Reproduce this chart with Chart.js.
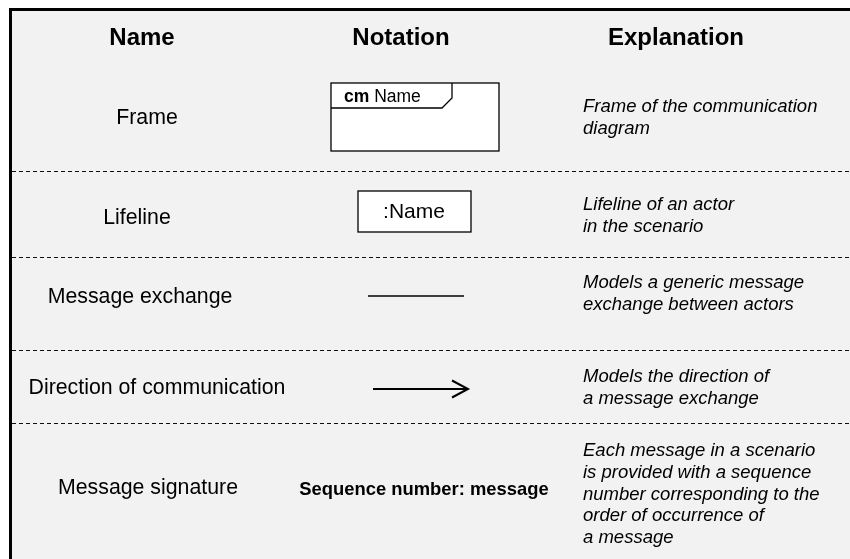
<!DOCTYPE html>
<html>
<head>
<meta charset="utf-8">
<script src="https://cdn.jsdelivr.net/npm/chart.js@4/dist/chart.umd.min.js"></script>
<style>
  html, body { margin: 0; padding: 0; background: #ffffff; }
  canvas { display: block; }
</style>
</head>
<body>
<canvas id="notation-chart" width="850" height="559"></canvas>
<script>
// Table content
const headers = ['Name', 'Notation', 'Explanation'];
const names = ['Frame', 'Lifeline', 'Message exchange', 'Direction of communication', 'Message signature'];
const notationKinds = ['frame', 'lifeline', 'line', 'arrow', 'signature'];
const notationLabels = ['Name', ':Name', '', '', 'Sequence number: message'];
const frameKeyword = 'cm';
const explanations = [
    ['Frame of the communication', 'diagram'],
    ['Lifeline of an actor', 'in the scenario'],
    ['Models a generic message', 'exchange between actors'],
    ['Models the direction of', 'a message exchange'],
    ['Each message in a scenario', 'is provided with a sequence', 'number corresponding to the', 'order of occurrence of', 'a message']
];

// Layout (in scale units, identical to pixels here)
const rowBounds = [11, 171.5, 257.5, 350.5, 423.5, 559];
const headerY = 38;
const headerX = [142, 401, 676];
const nameX = [147, 137, 140, 157, 148];
const nameY = [118, 218, 297, 388, 488];
const notationX = 414;
const expX = 583;
const expFirstY = [107, 205, 283, 377, 451];
const expLineGap = 21.7;

const FONT = '"Liberation Sans", Arial, sans-serif';

// Dividers and simple notation marks as line datasets
const dividerSets = rowBounds.slice(1, -1).map(v => ({
    data: [{x: 12, y: v}, {x: 850, y: v}],
    borderColor: '#111111', borderWidth: 1, borderDash: [4, 3],
    showLine: true, pointRadius: 0, clip: false
}));
const borderSet = {
    data: [{x: 10.5, y: 559}, {x: 10.5, y: 9.5}, {x: 850, y: 9.5}],
    borderColor: '#000000', borderWidth: 3, showLine: true, pointRadius: 0, clip: false
};
const lineSet = {
    data: [{x: 368, y: 296}, {x: 464, y: 296}],
    borderColor: '#000000', borderWidth: 1.5, showLine: true, pointRadius: 0
};
const arrowShaft = {
    data: [{x: 373, y: 389}, {x: 467, y: 389}],
    borderColor: '#000000', borderWidth: 2, showLine: true, pointRadius: 0
};
const arrowHead = {
    data: [{x: 452, y: 380.5}, {x: 468, y: 389}, {x: 452, y: 397.5}],
    borderColor: '#000000', borderWidth: 2, showLine: true, pointRadius: 0
};

const tablePlugin = {
    id: 'tablePlugin',
    beforeDatasetsDraw(chart) {
        const {ctx, scales: {x, y}} = chart;
        const X = v => x.getPixelForValue(v);
        const Y = v => y.getPixelForValue(v);
        ctx.save();
        ctx.fillStyle = '#f2f2f2';
        ctx.fillRect(X(10), Y(rowBounds[0]), X(850) - X(10), Y(559) - Y(rowBounds[0]));

        // Frame notation box
        ctx.fillStyle = '#ffffff';
        ctx.strokeStyle = '#000000';
        ctx.lineWidth = 1.3;
        ctx.fillRect(X(331), Y(83), X(499) - X(331), Y(151) - Y(83));
        ctx.strokeRect(X(331), Y(83), X(499) - X(331), Y(151) - Y(83));
        ctx.beginPath();
        ctx.moveTo(X(452), Y(83));
        ctx.lineTo(X(452), Y(98));
        ctx.lineTo(X(442), Y(108));
        ctx.lineTo(X(331), Y(108));
        ctx.stroke();

        // Lifeline box
        ctx.fillRect(X(358), Y(191), X(471) - X(358), Y(232) - Y(191));
        ctx.strokeRect(X(358), Y(191), X(471) - X(358), Y(232) - Y(191));
        ctx.restore();
    },
    afterDatasetsDraw(chart) {
        const {ctx, scales: {x, y}} = chart;
        const X = v => x.getPixelForValue(v);
        const Y = v => y.getPixelForValue(v);
        ctx.save();
        ctx.fillStyle = '#000000';
        ctx.textBaseline = 'middle';

        // Header
        ctx.textAlign = 'center';
        ctx.font = 'bold 24px ' + FONT;
        headers.forEach((h, i) => ctx.fillText(h, X(headerX[i]), Y(headerY)));

        // Name column
        ctx.font = '21.3px ' + FONT;
        names.forEach((n, i) => ctx.fillText(n, X(nameX[i]), Y(nameY[i])));

        // Notation labels
        notationKinds.forEach((kind, i) => {
            if (kind === 'frame') {
                ctx.textAlign = 'left';
                ctx.font = 'bold 17.5px ' + FONT;
                ctx.fillText(frameKeyword, X(344), Y(97));
                const w = ctx.measureText(frameKeyword + ' ').width;
                ctx.font = '17.5px ' + FONT;
                ctx.fillText(notationLabels[i], X(344) + w, Y(97));
            } else if (kind === 'lifeline') {
                ctx.textAlign = 'center';
                ctx.font = '21px ' + FONT;
                ctx.fillText(notationLabels[i], X(notationX), Y(212));
            } else if (kind === 'signature') {
                ctx.textAlign = 'center';
                ctx.font = 'bold 18.4px ' + FONT;
                ctx.fillText(notationLabels[i], X(424), Y(nameY[i] + 2));
            }
        });

        // Explanation column
        ctx.textAlign = 'left';
        ctx.font = 'italic 18.5px ' + FONT;
        explanations.forEach((lines, i) => {
            lines.forEach((line, j) => ctx.fillText(line, X(expX), Y(expFirstY[i] + j * expLineGap)));
        });
        ctx.restore();
    }
};

const ctx = document.getElementById('notation-chart').getContext('2d');
new Chart(ctx, {
    type: 'scatter',
    data: {
        datasets: [...dividerSets, lineSet, arrowShaft, arrowHead, borderSet]
    },
    options: {
        responsive: false,
        animation: false,
        layout: {padding: 0},
        scales: {
            x: {type: 'linear', min: 0, max: 850, display: false},
            y: {type: 'linear', min: 0, max: 559, reverse: true, display: false}
        },
        plugins: {
            legend: {display: false},
            tooltip: {enabled: false}
        }
    },
    plugins: [tablePlugin]
});
</script>
</body>
</html>
